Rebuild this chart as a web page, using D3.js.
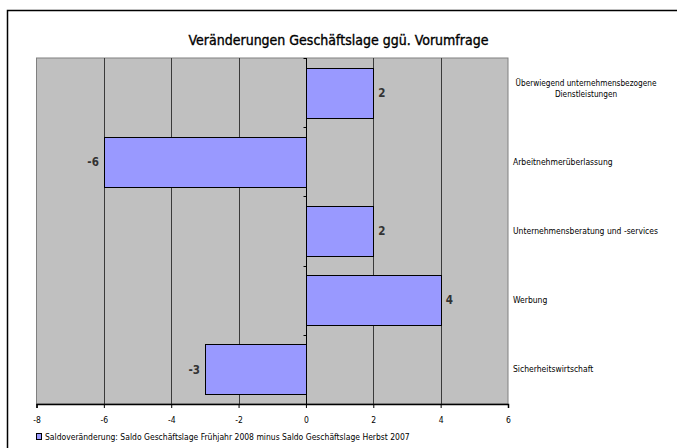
<!DOCTYPE html>
<html>
<head>
<meta charset="utf-8">
<script src="https://cdn.jsdelivr.net/npm/d3@7"></script>
<style>
  html, body { margin: 0; padding: 0; background: #ffffff; }
  svg { display: block; }
  text { font-family: "Liberation Sans Narrow", "DejaVu Sans Condensed", "Arial Narrow", sans-serif; }
</style>
</head>
<body>
<svg id="chart" width="677" height="448"></svg>
<script>
// Branchen (top to bottom) and the change in the business-situation balance
const categories = [
  ["Überwiegend unternehmensbezogene", "Dienstleistungen"],
  ["Arbeitnehmerüberlassung"],
  ["Unternehmensberatung und -services"],
  ["Werbung"],
  ["Sicherheitswirtschaft"]
];
const values = [2, -6, 2, 4, -3];
const xTicks = [-8, -6, -4, -2, 0, 2, 4, 6];
const title = "Veränderungen Geschäftslage ggü. Vorumfrage";
const legendLabel = "Saldoveränderung: Saldo Geschäftslage Frühjahr 2008 minus Saldo Geschäftslage Herbst 2007";

const svg = d3.select("#chart");

// outer frame (open to the right and bottom)
svg.append("path")
  .attr("d", "M7.5,448 V10.5 H677")
  .attr("fill", "none")
  .attr("stroke", "#000")
  .attr("stroke-width", 1.5);

const plot = { left: 36.5, right: 508, top: 58, bottom: 404 };

const x = d3.scaleLinear().domain([-8, 6]).range([plot.left, plot.right]);
const y = d3.scaleBand()
  .domain(d3.range(values.length))
  .range([plot.top, plot.bottom])
  .paddingInner(0.28)
  .paddingOuter(0.14);

// plot background
svg.append("rect")
  .attr("x", plot.left).attr("y", plot.top)
  .attr("width", plot.right - plot.left).attr("height", plot.bottom - plot.top)
  .attr("fill", "#c0c0c0")
  .attr("stroke", "#808080")
  .attr("stroke-width", 1);

// vertical gridlines
svg.append("g")
  .selectAll("line")
  .data(xTicks.filter(t => t > -8 && t < 6 && t !== 0))
  .join("line")
  .attr("x1", d => Math.round(x(d)) + 0.5).attr("x2", d => Math.round(x(d)) + 0.5)
  .attr("y1", plot.top).attr("y2", plot.bottom)
  .attr("stroke", "#3a3a3a")
  .attr("stroke-width", 1);

// bars
svg.append("g")
  .selectAll("rect")
  .data(values)
  .join("rect")
  .attr("x", d => Math.round(x(Math.min(0, d))) + 0.5)
  .attr("y", (d, i) => Math.round(y(i)) + 0.5)
  .attr("width", d => Math.round(Math.abs(x(d) - x(0))))
  .attr("height", Math.round(y.bandwidth()))
  .attr("fill", "#9999ff")
  .attr("stroke", "#000")
  .attr("stroke-width", 1);

// zero axis with category ticks
const x0 = Math.round(x(0)) + 0.5;
svg.append("line")
  .attr("x1", x0).attr("x2", x0)
  .attr("y1", plot.top).attr("y2", plot.bottom)
  .attr("stroke", "#000").attr("stroke-width", 1);
const step = y.step();
svg.append("g")
  .selectAll("line")
  .data(d3.range(values.length + 1))
  .join("line")
  .attr("x1", x0 - 3).attr("x2", x0)
  .attr("y1", i => Math.round(plot.top + i * step) + 0.5)
  .attr("y2", i => Math.round(plot.top + i * step) + 0.5)
  .attr("stroke", "#000");

// bottom value axis
const xAxis = d3.axisBottom(x).tickValues(xTicks).tickSize(4).tickPadding(9).tickFormat(d3.format("d"));
const gx = svg.append("g")
  .attr("transform", `translate(0,${plot.bottom})`)
  .call(xAxis);
gx.select(".domain").attr("stroke", "#000").attr("stroke-width", 1.5);
gx.selectAll(".tick line").attr("stroke", "#000");
gx.selectAll(".tick text")
  .attr("fill", "#000")
  .style("font-size", "8.5px")
  .text(d => d < 0 ? "-" + Math.abs(d) : d);

// value labels at bar ends
svg.append("g")
  .selectAll("text")
  .data(values)
  .join("text")
  .attr("x", d => d >= 0 ? x(d) + 5 : x(d) - 5)
  .attr("y", (d, i) => y(i) + y.bandwidth() / 2)
  .attr("dy", "0.36em")
  .attr("text-anchor", d => d >= 0 ? "start" : "end")
  .style("font-size", "11.5px")
  .style("font-weight", "bold")
  .attr("fill", "#333")
  .text(d => d);

// category labels to the right of the plot
const catG = svg.append("g");
categories.forEach((lines, i) => {
  const cy = y(i) + y.bandwidth() / 2;
  const multi = lines.length > 1;
  const t = catG.append("text")
    .attr("y", multi ? cy - 9.5 : cy)
    .style("font-size", multi ? "8.2px" : "8.5px")
    .attr("fill", "#000");
  lines.forEach((ln, j) => {
    t.append("tspan")
      .attr("x", multi ? 586 : 513)
      .attr("text-anchor", multi ? "middle" : "start")
      .attr("dy", j === 0 ? "0.35em" : "11")
      .text(ln);
  });
});

// title (slightly heavier than regular weight)
svg.append("text")
  .attr("x", 338.5).attr("y", 45)
  .attr("text-anchor", "middle")
  .style("font-size", "14px")
  .style("font-weight", "normal")
  .attr("fill", "#000")
  .attr("stroke", "#000")
  .attr("stroke-width", 0.35)
  .text(title);

// legend
const lg = svg.append("g").attr("transform", "translate(36,433)");
lg.append("rect")
  .attr("x", 0.5).attr("y", 0.5).attr("width", 5).attr("height", 6)
  .attr("fill", "#9999ff").attr("stroke", "#000").attr("stroke-width", 1);
lg.append("text")
  .attr("x", 9).attr("y", 7)
  .style("font-size", "8.5px")
  .attr("fill", "#000")
  .text(legendLabel);
</script>
</body>
</html>
